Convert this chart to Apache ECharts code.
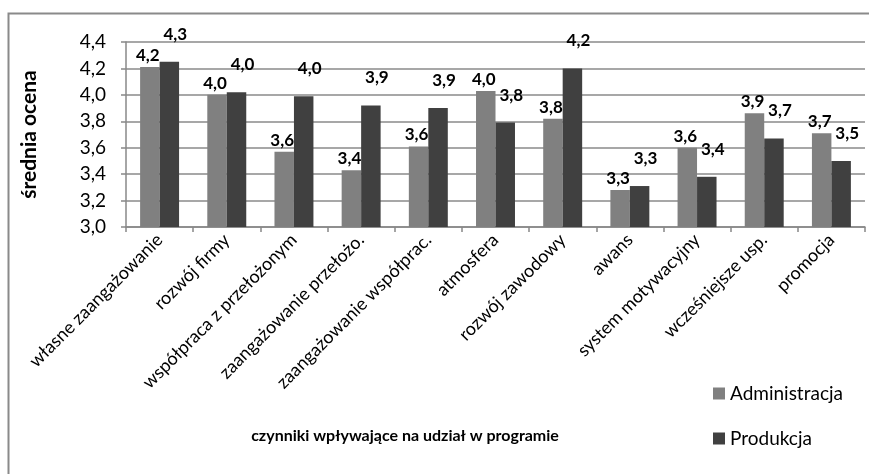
<html>
<head>
        <meta charset="utf-8">
        <script src="https://cdn.jsdelivr.net/npm/echarts@6/dist/echarts.min.js"></script>
</head>
<body style="margin:0">
        <div id="container" style="width:869px;height:474px;"></div>
<script>
        const categories = ['własne zaangażowanie', 'rozwój firmy', 'współpraca z przełożonym', 'zaangażowanie przełożo.',
                'zaangażowanie współprac.', 'atmosfera', 'rozwój zawodowy', 'awans', 'system motywacyjny',
                'wcześniejsze usp.', 'promocja'];
        const administracja = [4.21, 4.00, 3.57, 3.43, 3.61, 4.03, 3.82, 3.28, 3.60, 3.86, 3.71];
        const produkcja = [4.25, 4.02, 3.99, 3.92, 3.90, 3.79, 4.20, 3.31, 3.38, 3.67, 3.50];
        const yTicks = { min: 3.0, max: 4.4, step: 0.2 };

        const FONT = 'Lato';
        const fmt = v => (Math.round(v * 10 + 1e-9) / 10).toFixed(1).replace('.', ',');

        function buildSerials(name, data, color, labelDistance, labelOffset) {
                return {
                        name,
                        type: 'bar',
                        data,
                        barGap: '0%',
                        barCategoryGap: '42%',
                        itemStyle: { color },
                        label: {
                                show: true,
                                position: 'top',
                                distance: labelDistance,
                                offset: labelOffset,
                                fontFamily: FONT,
                                fontWeight: 'bold',
                                fontSize: 17,
                                color: '#000',
                                formatter: p => fmt(p.value)
                        }
                };
        }

        let mychart = echarts.init(document.getElementById('container'));

        var option = {
                animation: false,
                grid: { left: 126, right: 4, top: 42, bottom: 247 },
                legend: {
                        orient: 'vertical',
                        left: 708,
                        top: 379,
                        itemGap: 26,
                        itemWidth: 12,
                        itemHeight: 12,
                        icon: 'rect',
                        textStyle: { fontFamily: FONT, fontSize: 19, color: '#000' },
                        data: ['Administracja', 'Produkcja']
                },
                xAxis: {
                        type: 'category',
                        data: categories,
                        axisLine: { lineStyle: { color: '#888', width: 1.5 } },
                        axisTick: { show: true, length: 5, lineStyle: { color: '#888', width: 1.5 } },
                        axisLabel: {
                                rotate: 45,
                                interval: 0,
                                margin: 10,
                                fontFamily: FONT,
                                fontSize: 18,
                                color: '#000'
                        }
                },
                yAxis: {
                        type: 'value',
                        min: yTicks.min,
                        max: yTicks.max,
                        interval: yTicks.step,
                        name: 'średnia ocena',
                        nameLocation: 'middle',
                        nameGap: 86,
                        nameTextStyle: { fontFamily: FONT, fontSize: 21, fontWeight: 'bold', color: '#000' },
                        axisLine: { show: true, lineStyle: { color: '#888', width: 1.5 } },
                        axisTick: { show: true, length: 5, lineStyle: { color: '#888', width: 1.5 } },
                        splitLine: { lineStyle: { color: '#8a8a8a', width: 1.5 } },
                        axisLabel: {
                                margin: 20,
                                fontFamily: FONT,
                                fontSize: 19,
                                color: '#000',
                                formatter: v => fmt(v)
                        }
                },
                graphic: [
                        {
                                type: 'rect',
                                shape: { x: 8.5, y: 13.5, width: 900, height: 500 },
                                style: { fill: null, stroke: '#8a8a8a', lineWidth: 2 },
                                silent: true
                        },
                        {
                                type: 'text',
                                x: 405,
                                y: 436,
                                style: {
                                        text: 'czynniki wpływające na udział w programie',
                                        fontFamily: FONT,
                                        fontSize: 16,
                                        fontWeight: 'bold',
                                        fill: '#000',
                                        align: 'center',
                                        verticalAlign: 'middle'
                                }
                        }
                ],
                series: [
                        buildSerials('Administracja', administracja, '#808080', 3, [-2, 0]),
                        buildSerials('Produkcja', produkcja, '#404040', 5, [6, -14])
                ]
        };

        mychart.setOption(option);
</script>
</body>
</html>
